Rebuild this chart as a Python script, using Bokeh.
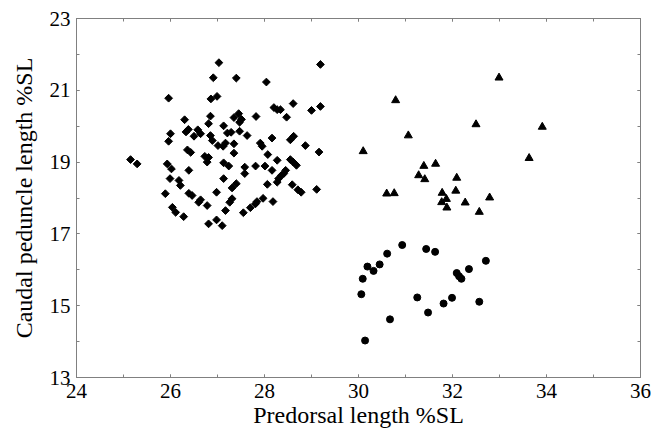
from bokeh.plotting import figure
from bokeh.models import LinearAxis, FixedTicker, Range1d
from bokeh.embed import file_html
from bokeh.resources import INLINE
import math

# Group 1 (diamonds)
diamond_x = [27.03, 26.91, 25.96, 26.86, 26.99, 26.30, 26.85, 26.33, 26.38, 26.58,
             26.64, 26.50, 26.00, 26.81, 27.13, 27.21, 27.29, 26.85, 25.96, 26.89,
             27.01, 27.12, 27.17, 26.36, 26.43, 25.15, 25.29, 25.93, 26.02, 26.39,
             26.73, 26.81, 26.78, 27.13, 27.24, 25.99, 26.18, 26.21, 27.13, 25.89,
             26.39, 26.46, 26.98, 26.64, 26.60, 26.78, 27.31, 27.26, 26.04, 26.11,
             26.28, 27.17, 26.81, 26.98, 27.10, 29.19, 27.40, 28.04, 28.61, 28.20,
             28.27, 28.34, 29.00, 29.19, 27.45, 27.35, 27.51, 27.47, 27.82, 28.47,
             27.47, 27.63, 28.16, 28.62, 28.55, 28.87, 29.16, 27.35, 27.35, 27.91,
             27.95, 28.07, 28.27, 28.55, 28.61, 28.68, 27.58, 27.58, 27.81, 28.01,
             28.16, 28.45, 28.41, 28.36, 28.30, 28.27, 28.59, 28.71, 28.78, 29.11,
             27.40, 27.31, 28.06, 27.97, 27.84, 27.81, 28.18, 27.70, 27.55]
diamond_y = [21.77, 21.35, 20.78, 20.76, 20.83, 20.18, 20.28, 19.84, 19.91, 19.90,
             19.79, 19.72, 19.79, 20.07, 20.01, 19.81, 19.83, 19.74, 19.58, 19.60,
             19.46, 19.44, 19.53, 19.34, 19.27, 19.07, 18.95, 18.95, 18.81, 18.77,
             19.16, 19.13, 19.00, 18.98, 18.89, 18.54, 18.49, 18.35, 18.54, 18.12,
             18.13, 18.07, 18.16, 17.95, 17.88, 17.79, 17.98, 17.88, 17.74, 17.60,
             17.48, 17.65, 17.28, 17.39, 17.23, 21.72, 21.34, 21.23, 20.63, 20.52,
             20.46, 20.46, 20.44, 20.55, 20.35, 20.24, 20.19, 20.11, 20.27, 20.25,
             19.86, 19.74, 19.67, 19.72, 19.62, 19.46, 19.28, 19.51, 19.25, 19.53,
             19.44, 19.21, 19.05, 19.07, 19.00, 18.91, 18.86, 18.68, 18.89, 18.89,
             18.77, 18.77, 18.68, 18.63, 18.54, 18.44, 18.37, 18.23, 18.16, 18.24,
             18.40, 18.28, 18.38, 17.99, 17.90, 17.84, 17.90, 17.73, 17.59]

# Group 2 (triangles)
triangle_x = [32.99, 30.79, 32.50, 31.06, 30.10, 33.63, 31.64, 31.39, 31.28, 31.41,
              32.09, 30.60, 30.76, 31.78, 32.07, 31.87, 31.77, 31.88, 32.27, 32.79,
              32.57, 33.91]
triangle_y = [21.35, 20.72, 20.05, 19.74, 19.30, 19.11, 18.95, 18.89, 18.63, 18.52,
              18.56, 18.12, 18.13, 18.14, 18.20, 17.97, 17.88, 17.73, 17.87, 18.01,
              17.61, 19.98]

# Group 3 (circles)
circle_x = [30.93, 31.44, 31.63, 30.61, 30.45, 30.19, 30.32, 30.09, 30.06, 32.71,
            32.35, 32.09, 32.14, 32.19, 31.25, 31.99, 31.81, 32.57, 31.48, 30.67,
            30.14]
circle_y = [16.69, 16.58, 16.50, 16.45, 16.15, 16.09, 15.97, 15.75, 15.32, 16.25,
            16.02, 15.91, 15.82, 15.75, 15.23, 15.22, 15.06, 15.11, 14.81, 14.62,
            14.03]

x_ticks = [24, 26, 28, 30, 32, 34, 36]
x_minor = list(range(24, 37))
y_ticks = [13, 15, 17, 19, 21, 23]
y_minor = list(range(13, 24))

x_label = "Predorsal length %SL"
y_label = "Caudal peduncle length %SL"

FONT = "Liberation Serif"
GRAY = "#808080"

p = figure(width=657, height=433, x_range=Range1d(24, 36), y_range=Range1d(13, 23),
           output_backend="svg", toolbar_location=None,
           min_border_left=76, min_border_right=17, min_border_top=18, min_border_bottom=56)
p.grid.visible = False
p.outline_line_color = GRAY
p.background_fill_color = "white"
p.border_fill_color = "white"

bottom_axis = p.below[0]
left_axis = p.left[0]
top_axis = LinearAxis()
right_axis = LinearAxis()
p.add_layout(top_axis, "above")
p.add_layout(right_axis, "right")

def style(ax, ticks, minor, show_labels):
    ax.ticker = FixedTicker(ticks=ticks, minor_ticks=minor)
    ax.axis_line_color = GRAY
    ax.major_tick_line_color = GRAY
    ax.minor_tick_line_color = GRAY
    ax.major_tick_in = 3
    ax.major_tick_out = 0
    ax.minor_tick_in = 3
    ax.minor_tick_out = 0
    if show_labels:
        ax.major_label_text_font = FONT
        ax.major_label_text_font_size = "21px"
        ax.major_label_text_color = "black"
        ax.axis_label_text_font = FONT
        ax.axis_label_text_font_size = "24px"
        ax.axis_label_text_font_style = "normal"
        ax.axis_label_text_color = "black"
    else:
        ax.major_label_text_font_size = "1px"
        ax.major_label_text_color = None
        ax.major_label_standoff = 0

style(bottom_axis, x_ticks, x_minor, True)
style(left_axis, y_ticks, y_minor, True)
style(top_axis, x_ticks, x_minor, False)
style(right_axis, y_ticks, y_minor, False)

bottom_axis.axis_label = x_label
bottom_axis.major_label_standoff = 6
bottom_axis.axis_label_standoff = 1
left_axis.axis_label = y_label
left_axis.major_label_standoff = 6
left_axis.axis_label_standoff = 10

p.scatter(diamond_x, diamond_y, marker="square", angle=math.pi / 4, size=5.5,
          fill_color="black", line_color="black")
p.scatter(triangle_x, triangle_y, marker="triangle", size=8,
          fill_color="black", line_color="black")
p.scatter(circle_x, circle_y, marker="circle", size=7,
          fill_color="black", line_color="black")

open("out.html", "w").write(file_html(p, INLINE))
